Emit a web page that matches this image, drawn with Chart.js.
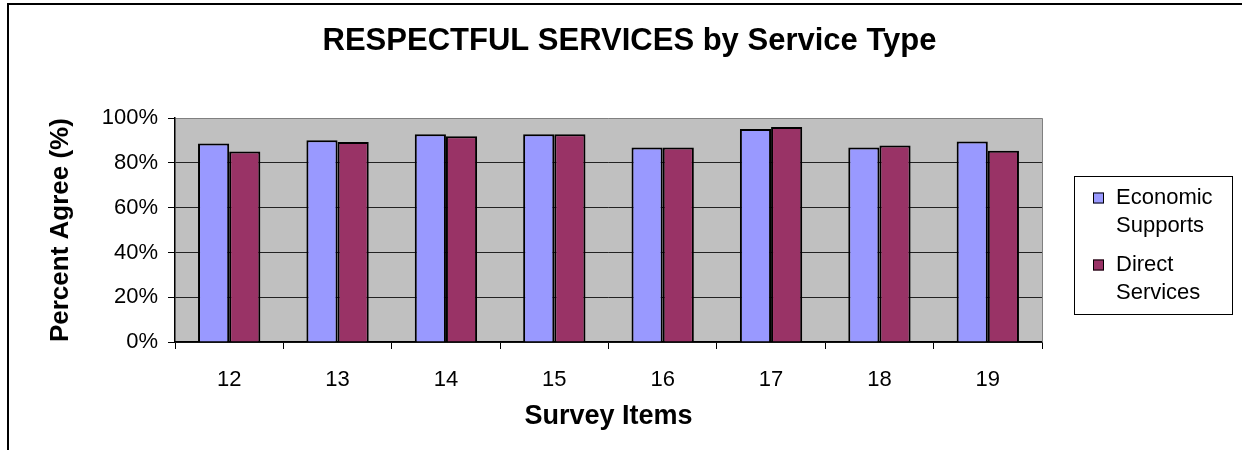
<!DOCTYPE html>
<html>
<head>
<meta charset="utf-8">
<script src="https://cdn.jsdelivr.net/npm/chart.js@4"></script>
<style>
	body { margin: 0; background: #fff; overflow: hidden; }
	#frame { position: absolute; left: 7px; top: 3px; width: 1300px; height: 500px;
		border-left: 2px solid #000; border-top: 2px solid #000; }
	canvas { position: absolute; left: 0; top: 0; }
</style>
</head>
<body>
<div id="frame"></div>
<canvas id="chart" width="1242" height="450"></canvas>
<script>
'use strict';

const surveyItems = ['12', '13', '14', '15', '16', '17', '18', '19'];
const seriesNames = ['Economic Supports', 'Direct Services'];
const economicSupports = [88.7, 90.1, 92.8, 92.8, 86.9, 95.2, 86.9, 89.6];
const directServices = [85.1, 89.4, 91.9, 92.8, 86.9, 96.1, 87.8, 85.4];
const seriesColors = ['#9999FF', '#993366'];

const FONT = "'Liberation Sans', Arial, sans-serif";

// grey plot area, drawn under the grid and bars
let plotArea = {
	id: 'plotArea',
	beforeDraw(chart) {
		let {ctx, chartArea: a} = chart;
		ctx.save();
		ctx.fillStyle = '#C0C0C0';
		ctx.fillRect(a.left, a.top, a.right - a.left, a.bottom - a.top);
		ctx.restore();
	},
	afterDraw(chart) {
		let {ctx, chartArea: a} = chart;
		ctx.save();
		ctx.strokeStyle = '#808080';
		ctx.lineWidth = 1;
		ctx.beginPath();
		ctx.moveTo(a.right + 0.5, a.top);
		ctx.lineTo(a.right + 0.5, a.bottom);
		ctx.stroke();
		ctx.restore();
	}
};

// boxed legend with two-line labels, right of the plot
let boxLegend = {
	id: 'boxLegend',
	afterDraw(chart) {
		let ctx = chart.ctx;
		ctx.save();
		ctx.strokeStyle = '#000';
		ctx.lineWidth = 1;
		ctx.strokeRect(1074.5, 176.5, 158, 138);
		ctx.font = '22px ' + FONT;
		ctx.textBaseline = 'middle';
		chart.data.datasets.forEach((ds, ix) => {
			let y0 = 198 + ix * 67;
			ctx.fillStyle = ds.backgroundColor;
			ctx.fillRect(1093, y0 - 5.5, 11, 11);
			ctx.strokeStyle = '#000';
			ctx.strokeRect(1093.5, y0 - 5, 10, 10);
			ctx.fillStyle = '#000';
			ds.label.split(' ').forEach((word, line) => {
				ctx.fillText(word, 1116, y0 + line * 28);
			});
		});
		ctx.restore();
	}
};

new Chart(document.getElementById('chart'), {
	type: 'bar',
	data: {
		labels: surveyItems,
		datasets: [
			{label: seriesNames[0], data: economicSupports, backgroundColor: seriesColors[0]},
			{label: seriesNames[1], data: directServices, backgroundColor: seriesColors[1]},
		],
	},
	plugins: [plotArea, boxLegend],
	options: {
		responsive: false,
		devicePixelRatio: 1,
		animation: false,
		layout: {padding: {left: 17, right: 0, top: 0, bottom: 0}},
		datasets: {
			bar: {
				borderColor: '#000',
				borderWidth: 2,
				categoryPercentage: 0.575,
				barPercentage: 1.0,
			},
		},
		plugins: {
			legend: {display: false},
			tooltip: {enabled: false},
			title: {
				display: true,
				text: 'RESPECTFUL SERVICES by Service Type',
				color: '#000',
				font: {family: FONT, size: 31, weight: 'bold', lineHeight: 1.2},
				padding: {top: 23, bottom: 58},
			},
		},
		scales: {
			x: {
				afterFit(scale) { scale.height = 108; },
				grid: {
					drawOnChartArea: false,
					tickLength: 7,
					tickColor: '#000',
					tickWidth: 1,
				},
				border: {color: '#000', width: 1.5},
				ticks: {color: '#000', font: {family: FONT, size: 22}, padding: 18},
				title: {
					display: true,
					text: 'Survey Items',
					color: '#000',
					font: {family: FONT, size: 27, weight: 'bold', lineHeight: 1.2},
					padding: {top: 0, bottom: 17},
				},
			},
			y: {
				min: 0,
				max: 100,
				afterFit(scale) { scale.width = 158; },
				grid: {
					color: ctx => ctx.tick && ctx.tick.value === 100 ? '#808080' : '#222',
					lineWidth: 1,
					tickLength: 7,
					tickColor: '#000',
				},
				border: {color: '#000', width: 1.5},
				ticks: {
					stepSize: 20,
					color: '#000',
					font: {family: FONT, size: 22},
					padding: 10,
					callback: v => v + '%',
				},
				title: {
					display: true,
					text: 'Percent Agree (%)',
					color: '#000',
					font: {family: FONT, size: 26, weight: 'bold', lineHeight: 1.2},
					padding: {top: 28, bottom: 0},
				},
			},
			// empty right-hand box that keeps room for the legend
			side: {
				position: 'right',
				afterFit(scale) { scale.width = 200; },
				grid: {display: false},
				border: {display: false},
				ticks: {display: false},
			},
		},
	},
});
</script>
</body>
</html>
